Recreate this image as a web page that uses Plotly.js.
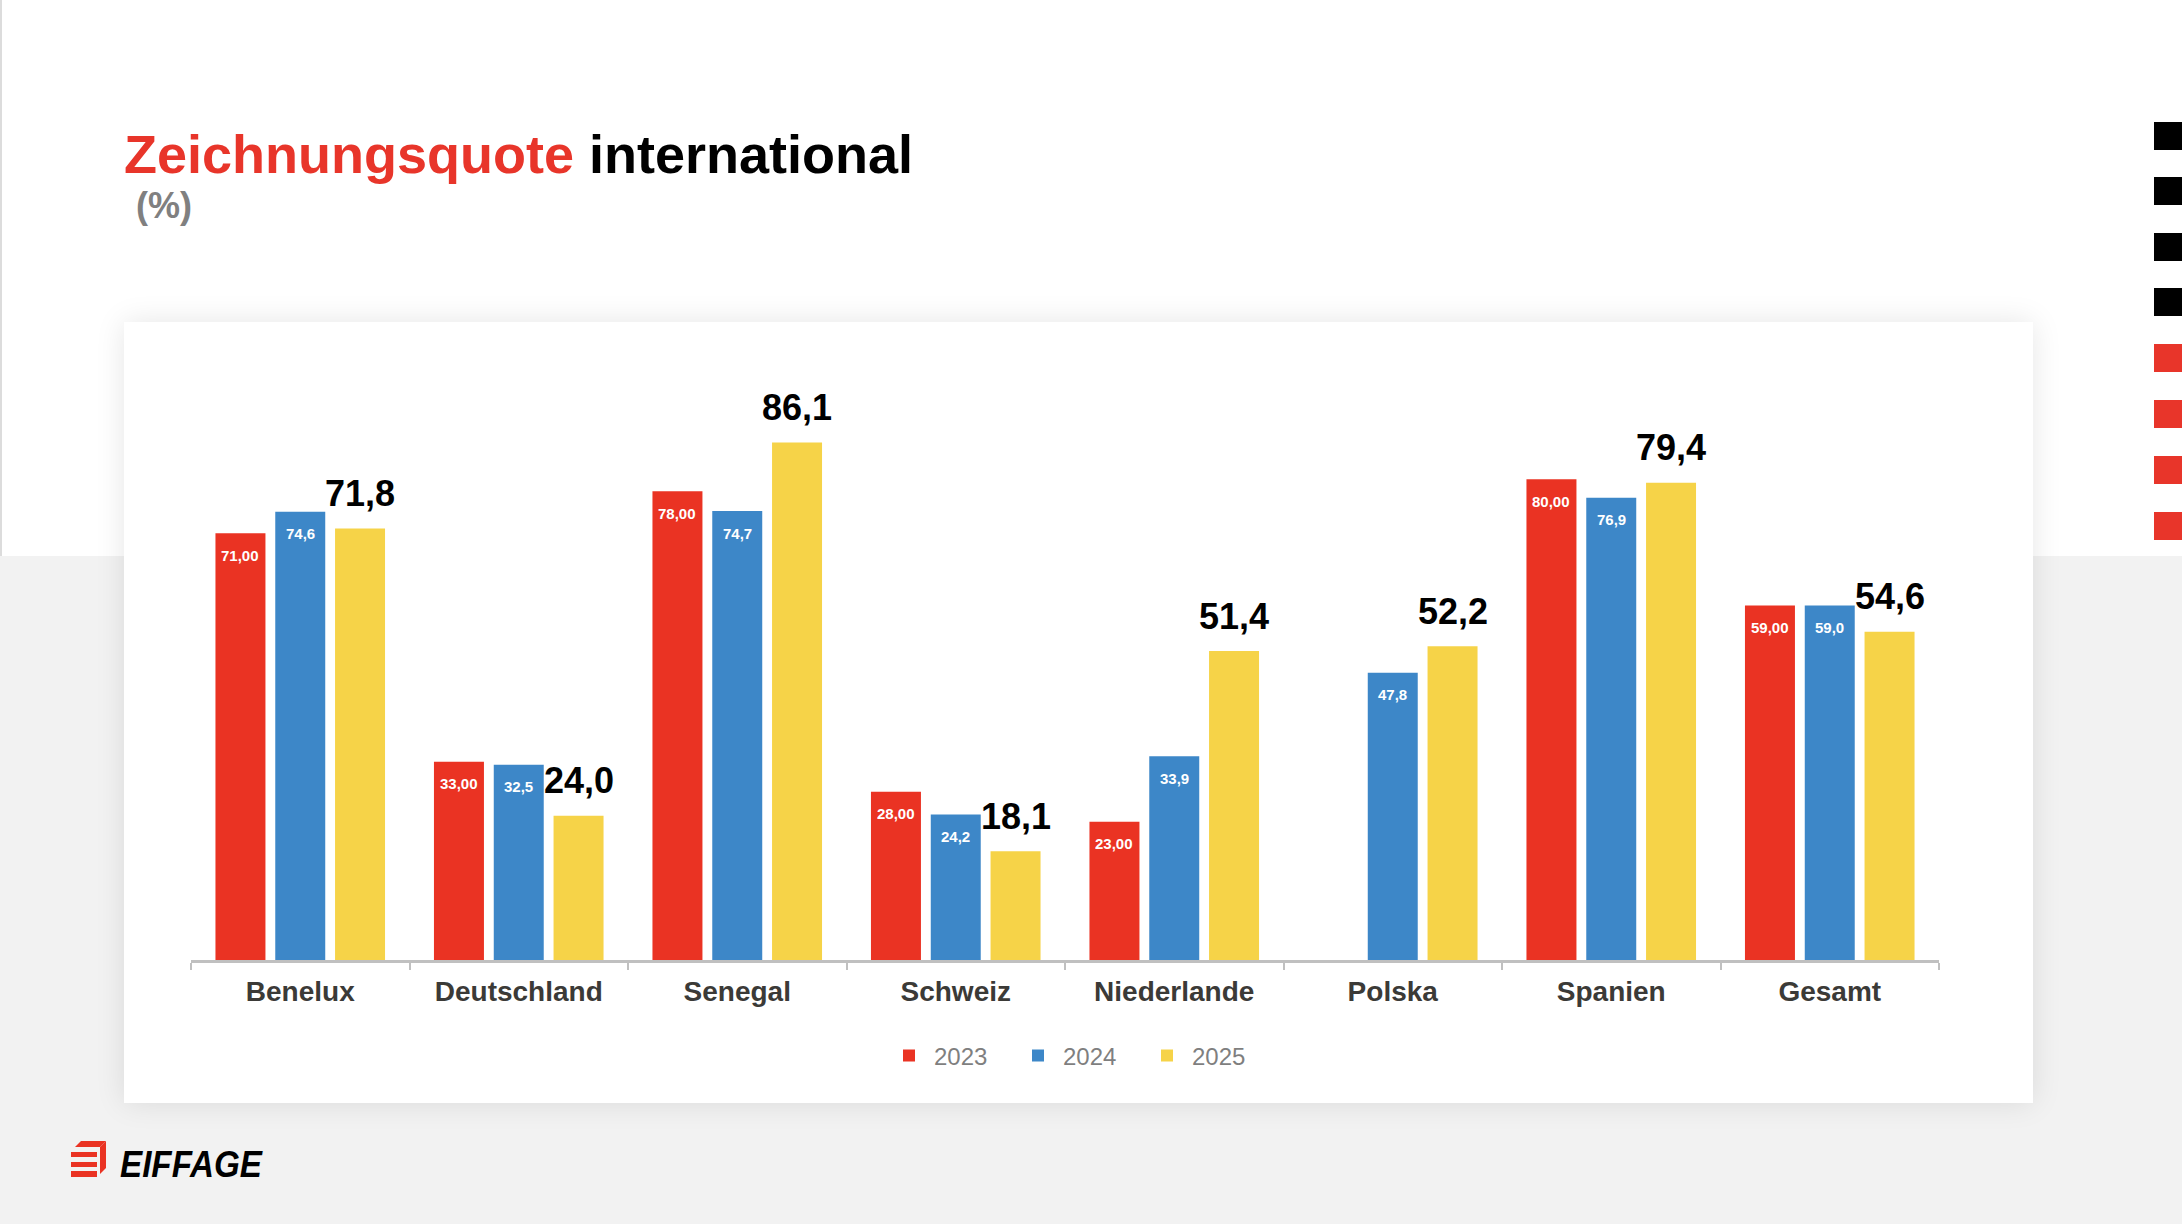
<!DOCTYPE html>
<html>
<head>
<meta charset="utf-8">
<script src="https://cdn.plot.ly/plotly-3.0.1.min.js"></script>
<style>
html,body{margin:0;padding:0;width:2182px;height:1224px;overflow:hidden;background:#ffffff;}
#bgLow{position:absolute;left:0;top:556px;width:2182px;height:668px;background:#f2f2f2;}
#edge{position:absolute;left:0;top:0;width:2px;height:556px;background:#dcdcdc;}
#card{position:absolute;left:124px;top:322px;width:1909px;height:781px;background:#ffffff;box-shadow:0 0 28px rgba(0,0,0,0.10);}
.sq{position:absolute;left:2154px;width:28px;height:28px;}
#chart{position:absolute;left:0;top:0;width:2182px;height:1224px;}
#logo{position:absolute;left:0;top:1100px;}
</style>
</head>
<body>
<div id="bgLow"></div>
<div id="edge"></div>
<div id="card"></div>
<div class="sq" style="top:122px;background:#000"></div>
<div class="sq" style="top:177px;background:#000"></div>
<div class="sq" style="top:233px;background:#000"></div>
<div class="sq" style="top:288px;background:#000"></div>
<div class="sq" style="top:344px;background:#E8352A"></div>
<div class="sq" style="top:400px;background:#E8352A"></div>
<div class="sq" style="top:456px;background:#E8352A"></div>
<div class="sq" style="top:512px;background:#E8352A"></div>
<svg id="logo" width="300" height="100">
  <g transform="translate(60,30)" fill="#EA3323">
    <polygon points="15,17 21,11 46,11 40,17"/>
    <polygon points="40,17 46,11 46,38 40,44"/>
    <rect x="11" y="22" width="26" height="5"/>
    <rect x="11" y="32" width="26" height="5"/>
    <rect x="11" y="41" width="26" height="6"/>
  </g>
  <text x="120" y="77" font-family="Liberation Sans, Arial, sans-serif" font-weight="bold" font-style="italic" font-size="36" fill="#000" textLength="142" lengthAdjust="spacingAndGlyphs">EIFFAGE</text>
</svg>
<div id="chart"></div>
<script>
var categories = ['Benelux','Deutschland','Senegal','Schweiz','Niederlande','Polska','Spanien','Gesamt'];
var years = ['2023','2024','2025'];
var values2023 = [71.00, 33.00, 78.00, 28.00, 23.00, null, 80.00, 59.00];
var values2024 = [74.6, 32.5, 74.7, 24.2, 33.9, 47.8, 76.9, 59.0];
var values2025 = [71.8, 24.0, 86.1, 18.1, 51.4, 52.2, 79.4, 54.6];
var seriesColors = ['#EA3323','#3D87C8','#F6D348'];
var labelDecimals = [2, 1, 1];

var series = [values2023, values2024, values2025];
var BARGAP = 0.179;
var FONT = 'Liberation Sans, Arial, Helvetica, sans-serif';

function fmt(v, d){ return v.toFixed(d).replace('.', ','); }

var traces = series.map(function(vals, k){
  return {
    type: 'bar',
    name: years[k],
    x: categories,
    y: vals,
    marker: {color: seriesColors[k], line: {width: 0}},
    hoverinfo: 'skip'
  };
});

var annotations = [];
var slot = (1 - BARGAP) / 3;
series.forEach(function(vals, k){
  vals.forEach(function(v, i){
    if (v === null || v === undefined) return;
    var outside = (k === 2);
    annotations.push({
      x: i + (k - 1) * slot,
      y: v,
      xref: 'x', yref: 'y',
      text: fmt(v, labelDecimals[k]),
      showarrow: false,
      xanchor: 'center',
      yanchor: 'middle',
      yshift: outside ? 35 : -22,
      font: outside
        ? {family: FONT, size: 36, weight: 'bold', color: '#000000'}
        : {family: FONT, size: 15, weight: 'bold', color: '#ffffff'}
    });
  });
});

annotations.push({
  xref: 'paper', yref: 'paper',
  x: (134 - 191) / 1748, y: (960 - 205) / 601,
  xanchor: 'left', yanchor: 'middle',
  text: '(%)', showarrow: false,
  font: {family: FONT, size: 36, weight: 'bold', color: '#808080'}
});

var layout = {
  width: 2182, height: 1224,
  paper_bgcolor: 'rgba(0,0,0,0)',
  plot_bgcolor: 'rgba(0,0,0,0)',
  margin: {l: 191, r: 243, t: 359, b: 264, pad: 0},
  barmode: 'group',
  bargap: BARGAP,
  bargroupgap: 0.164,
  title: {
    text: '<span style="color:#E8352A">Zeichnungsquote</span> international',
    font: {family: FONT, size: 54, weight: 'bold', color: '#000000'},
    xref: 'container', yref: 'container',
    x: 124 / 2182, xanchor: 'left',
    y: 1 - 154 / 1224, yanchor: 'middle'
  },
  xaxis: {
    type: 'category',
    showline: true, linecolor: '#c0c0c0', linewidth: 3,
    ticks: 'outside', tickson: 'boundaries', ticklen: 7, tickwidth: 2, tickcolor: '#c0c0c0',
    ticklabelstandoff: 4,
    tickfont: {family: FONT, size: 28, weight: 'bold', color: '#3b3a37'},
    showgrid: false, zeroline: false, automargin: false, fixedrange: true
  },
  yaxis: {
    range: [0, 100], visible: false, showgrid: false, zeroline: false, fixedrange: true
  },
  showlegend: true,
  legend: {
    orientation: 'h',
    x: (884 - 191) / 1748, xanchor: 'left',
    y: (960 - 1056) / 601, yanchor: 'middle',
    font: {family: FONT, size: 24, color: '#7f7f7f'},
    bgcolor: 'rgba(0,0,0,0)',
    itemwidth: 40,
    entrywidth: 74, entrywidthmode: 'pixels',
    traceorder: 'normal'
  },
  annotations: annotations
};

Plotly.newPlot('chart', traces, layout, {staticPlot: true, displayModeBar: false});
</script>
</body>
</html>
